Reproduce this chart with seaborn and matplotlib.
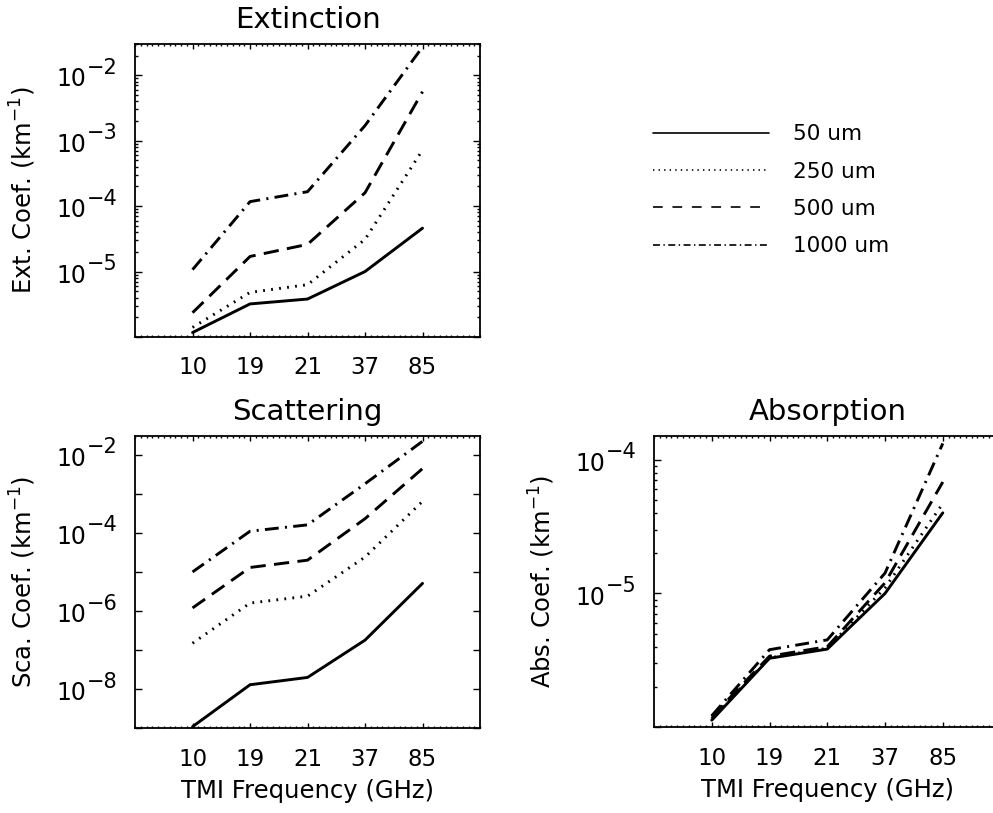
import matplotlib
matplotlib.use("Agg")
import matplotlib.pyplot as plt
from matplotlib.lines import Line2D
from matplotlib.ticker import FixedLocator, MultipleLocator, NullFormatter, LogLocator
import pandas as pd
import seaborn as sns

# TMI channels and particle sizes
freqs = ["10", "19", "21", "37", "85"]
sizes = ["50 um", "250 um", "500 um", "1000 um"]

# Extinction coefficient (km^-1)
ext_50 = [1.17e-6, 3.2e-6, 3.8e-6, 1.0e-5, 4.6e-5]
ext_250 = [1.4e-6, 4.8e-6, 6.3e-6, 3.1e-5, 7.2e-4]
ext_500 = [2.35e-6, 1.7e-5, 2.6e-5, 1.6e-4, 5.6e-3]
ext_1000 = [1.07e-5, 1.17e-4, 1.66e-4, 1.7e-3, 2.7e-2]

# Scattering coefficient (km^-1)
sca_50 = [1.1e-9, 1.3e-8, 2.0e-8, 1.8e-7, 5.1e-6]
sca_250 = [1.5e-7, 1.6e-6, 2.4e-6, 2.4e-5, 6.4e-4]
sca_500 = [1.2e-6, 1.3e-5, 2.0e-5, 2.3e-4, 4.4e-3]
sca_1000 = [1.0e-5, 1.1e-4, 1.6e-4, 1.8e-3, 2.2e-2]

# Absorption coefficient (km^-1)
abs_50 = [1.13e-6, 3.28e-6, 3.84e-6, 1.0e-5, 4.0e-5]
abs_250 = [1.16e-6, 3.3e-6, 3.9e-6, 1.1e-5, 4.7e-5]
abs_500 = [1.2e-6, 3.4e-6, 4.0e-6, 1.2e-5, 6.8e-5]
abs_1000 = [1.22e-6, 3.8e-6, 4.5e-6, 1.42e-5, 1.32e-4]

# labelled decades on each y axis
ext_exponents = [-2, -3, -4, -5]
sca_exponents = [-2, -4, -6, -8]
abs_exponents = [-4, -5]

sns.set_theme(style="ticks")
plt.rcParams["font.family"] = ["DejaVu Sans"]
plt.rcParams["mathtext.fontset"] = "dejavusans"
plt.rcParams["lines.scale_dashes"] = False
plt.rcParams["axes.linewidth"] = 1.3
plt.rcParams["axes.edgecolor"] = "black"
plt.rcParams["axes.labelcolor"] = "black"
plt.rcParams["text.color"] = "black"
plt.rcParams["xtick.color"] = "black"
plt.rcParams["ytick.color"] = "black"

plot_styles = {
    "50 um": "-",
    "250 um": (0, (1.3, 4.5)),
    "500 um": (0, (11, 6)),
    "1000 um": (0, (10, 4.5, 1.5, 4.5)),
}
legend_styles = {
    "50 um": "-",
    "250 um": (0, (1, 3)),
    "500 um": (0, (7, 7)),
    "1000 um": (0, (5, 2.5, 1, 2.5)),
}


def long_frame(series):
    rows = []
    for size, vals in zip(sizes, series):
        for i, (f, v) in enumerate(zip(freqs, vals)):
            rows.append({"size": size, "freq": f, "pos": i + 1, "value": v})
    return pd.DataFrame(rows)


def decade_labels(ax, exps):
    """Write 10 with a large exponent next to each labelled decade."""
    for e in exps:
        ax.annotate("10", xy=(0, 10.0 ** e), xycoords=("axes fraction", "data"),
                    xytext=(-35, -8), textcoords="offset points",
                    ha="right", va="baseline", fontsize=17, annotation_clip=False)
        ax.annotate("\u2212%d" % abs(e), xy=(0, 10.0 ** e),
                    xycoords=("axes fraction", "data"),
                    xytext=(-35, 1), textcoords="offset points",
                    ha="left", va="baseline", fontsize=15, annotation_clip=False)


def panel(ax, series, ylim, exps, title, ylabel, xlabel=None, minor_subs=True):
    df = long_frame(series)
    ax.set_yscale("log")
    for size in sizes:
        sns.lineplot(data=df[df["size"] == size], x="pos", y="value", ax=ax,
                     color="black", lw=2.1, linestyle=plot_styles[size],
                     legend=False)
    ax.set_xlim(0, len(freqs) + 1)
    ax.set_ylim(*ylim)
    ax.xaxis.set_major_locator(FixedLocator(range(1, len(freqs) + 1)))
    ax.set_xticklabels(freqs)
    ax.xaxis.set_minor_locator(MultipleLocator(0.1))
    ax.yaxis.set_major_locator(LogLocator(base=10, numticks=20))
    if minor_subs:
        ax.yaxis.set_minor_locator(LogLocator(base=10, subs=range(2, 10), numticks=20))
    else:
        ax.yaxis.set_minor_locator(FixedLocator([]))
    ax.yaxis.set_major_formatter(NullFormatter())
    ax.yaxis.set_minor_formatter(NullFormatter())
    ax.tick_params(axis="both", which="both", direction="in",
                   top=True, right=True, width=1.0)
    ax.tick_params(axis="x", which="major", length=3.6, labelsize=16.5, pad=14)
    ax.tick_params(axis="x", which="minor", length=1.5)
    ax.tick_params(axis="y", which="major", length=5)
    ax.tick_params(axis="y", which="minor", length=2.2)
    decade_labels(ax, exps)
    ax.set_title(title, fontsize=21, pad=11.5)
    ax.set_ylabel(ylabel, fontsize=17.5)
    ax.yaxis.set_label_coords(-0.281, 0.5)
    if xlabel:
        ax.set_xlabel(xlabel, fontsize=17.5, labelpad=6)
    else:
        ax.set_xlabel("")
    for s in ax.spines.values():
        s.set_visible(True)


fig = plt.figure(figsize=(9.93, 8.13), dpi=100)
ax_ext = fig.add_axes([0.136, 0.5855, 0.3474, 0.3604])
ax_sca = fig.add_axes([0.136, 0.1042, 0.3474, 0.3595])
ax_abs = fig.add_axes([0.6586, 0.1054, 0.3490, 0.3583])

panel(ax_ext, [ext_50, ext_250, ext_500, ext_1000], (1e-6, 3e-2), ext_exponents,
      "Extinction", "Ext. Coef. (km$^{-1}$)")
panel(ax_sca, [sca_50, sca_250, sca_500, sca_1000], (1e-9, 3e-2), sca_exponents,
      "Scattering", "Sca. Coef. (km$^{-1}$)", "TMI Frequency (GHz)", minor_subs=False)
panel(ax_abs, [abs_50, abs_250, abs_500, abs_1000], (1e-6, 1.5e-4), abs_exponents,
      "Absorption", "Abs. Coef. (km$^{-1}$)", "TMI Frequency (GHz)")

handles = [Line2D([], [], color="black", lw=1.2, linestyle=legend_styles[s]) for s in sizes]
fig.legend(handles, sizes, loc="upper left", bbox_to_anchor=(0.6573, 0.847),
           bbox_transform=fig.transFigure, frameon=False, fontsize=15.5,
           handlelength=5.4, handletextpad=1.12, labelspacing=0.8,
           borderpad=0, borderaxespad=0)

fig.savefig("out.png", dpi=100)
